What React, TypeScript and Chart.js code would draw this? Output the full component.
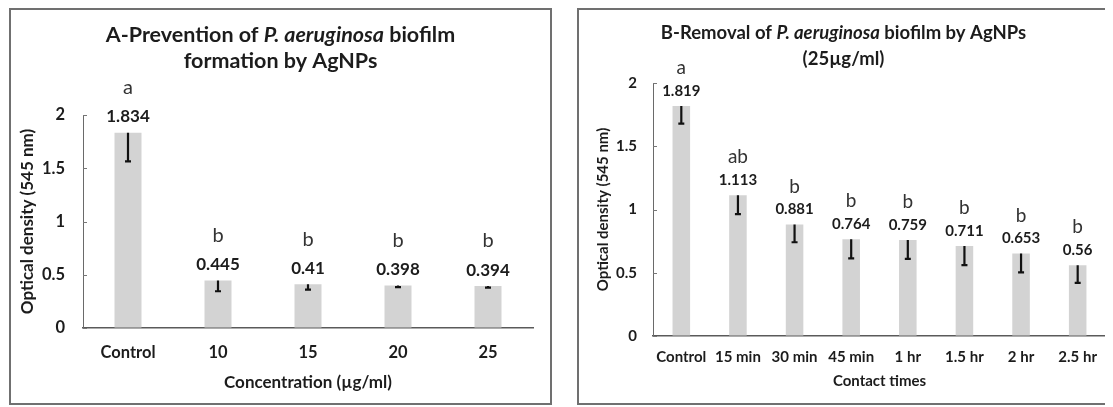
import { useEffect, useRef } from "react";
import { Chart, registerables } from "chart.js";

Chart.register(...registerables);

// ---------- data ----------
const concentrationCategories = ["Control", "10", "15", "20", "25"];
const preventionValues = [1.834, 0.445, 0.41, 0.398, 0.394];
const preventionErrors = [0.27, 0.1, 0.05, 0.015, 0.015];
const preventionLetters = ["a", "b", "b", "b", "b"];

const contactTimeCategories = ["Control", "15 min", "30 min", "45 min", "1 hr", "1.5 hr", "2 hr", "2.5 hr"];
const removalValues = [1.819, 1.113, 0.881, 0.764, 0.759, 0.711, 0.653, 0.56];
const removalErrors = [0.14, 0.15, 0.14, 0.15, 0.15, 0.15, 0.15, 0.14];
const removalLetters = ["a", "ab", "b", "b", "b", "b", "b", "b"];

const yTickValues = [0, 0.5, 1, 1.5, 2];

const FONT = "Lato, 'Open Sans', 'DejaVu Sans', sans-serif";
const TEXT = "#1c1c1c";

type Seg = { t: string; i?: boolean };

type PanelCfg = {
  left: number;
  width: number;
  height: number;
  categories: string[];
  values: number[];
  errors: number[];
  letters: string[];
  titleLines: Seg[][];
  titleYs: number[];
  titleSize: number;
  xTitle: string;
  xTitleY: number;
  xTitleSize: number;
  yTitle: string;
  yTitleX: number;
  yTitleSize: number;
  yAxisWidth: number;
  padTop: number;
  padRight: number;
  bottomSpace: number;
  tickSize: number;
  xTickPadding: number;
  yTickPadding: number;
  barPct: number;
  valueSize: number;
  valueOffset: number;
  letterSize: number;
  letterOffset: number;
};

const panelA: PanelCfg = {
  left: 1,
  width: 543,
  height: 397,
  categories: concentrationCategories,
  values: preventionValues,
  errors: preventionErrors,
  letters: preventionLetters,
  titleLines: [
    [{ t: "A-Prevention of " }, { t: "P. aeruginosa", i: true }, { t: " biofilm" }],
    [{ t: "formation by AgNPs" }],
  ],
  titleYs: [27, 53],
  titleSize: 21.5,
  xTitle: "Concentration (µg/ml)",
  xTitleY: 375,
  xTitleSize: 17,
  yTitle: "Optical density (545 nm)",
  yTitleX: 19,
  yTitleSize: 17,
  yAxisWidth: 74,
  padTop: 107,
  padRight: 19,
  bottomSpace: 77,
  tickSize: 16.5,
  xTickPadding: 15,
  yTickPadding: 18,
  barPct: 0.3,
  valueSize: 17,
  valueOffset: 16,
  letterSize: 20,
  letterOffset: 29,
};

const panelB: PanelCfg = {
  left: 569,
  width: 533,
  height: 397,
  categories: contactTimeCategories,
  values: removalValues,
  errors: removalErrors,
  letters: removalLetters,
  titleLines: [
    [{ t: "B-Removal of " }, { t: "P. aeruginosa", i: true }, { t: " biofilm by AgNPs" }],
    [{ t: "(25µg/ml)" }],
  ],
  titleYs: [25, 51],
  titleSize: 18.5,
  xTitle: "Contact times",
  xTitleY: 373,
  xTitleSize: 15,
  yTitle: "Optical density (545 nm)",
  yTitleX: 26,
  yTitleSize: 15,
  yAxisWidth: 76,
  padTop: 75,
  padRight: 4,
  bottomSpace: 69,
  tickSize: 15,
  xTickPadding: 12,
  yTickPadding: 16,
  barPct: 0.31,
  valueSize: 15,
  valueOffset: 15,
  letterSize: 19,
  letterOffset: 23,
};

function makeDecorPlugin(cfg: PanelCfg) {
  return {
    id: "decor",
    afterDatasetsDraw(chart: any) {
      const ctx: CanvasRenderingContext2D = chart.ctx;
      const ys = chart.scales.y;
      const area = chart.chartArea;
      const meta = chart.getDatasetMeta(0);
      ctx.save();

      // inward y tick marks
      ctx.strokeStyle = "#777";
      ctx.lineWidth = 1;
      yTickValues.forEach((v) => {
        const py = Math.round(ys.getPixelForValue(v)) + 0.5;
        ctx.beginPath();
        ctx.moveTo(area.left, py);
        ctx.lineTo(area.left + 4, py);
        ctx.stroke();
      });

      // error bars (minus direction) and labels
      cfg.values.forEach((v, i) => {
        const bar = meta.data[i];
        const x = bar.x;
        const yTop = ys.getPixelForValue(v);
        const yBot = ys.getPixelForValue(v - cfg.errors[i]);
        ctx.strokeStyle = "#111";
        ctx.lineWidth = 2.2;
        ctx.beginPath();
        ctx.moveTo(x, yTop);
        ctx.lineTo(x, yBot);
        ctx.moveTo(x - 3, yBot);
        ctx.lineTo(x + 3, yBot);
        ctx.stroke();

        ctx.fillStyle = TEXT;
        ctx.textAlign = "center";
        ctx.textBaseline = "middle";
        const vy = yTop - cfg.valueOffset;
        ctx.font = `bold ${cfg.valueSize}px ${FONT}`;
        ctx.fillText(String(v), x, vy);
        ctx.fillStyle = "#333";
        ctx.font = `normal ${cfg.letterSize}px ${FONT}`;
        ctx.fillText(cfg.letters[i], x, vy - cfg.letterOffset);
      });

      // title (rich text)
      ctx.fillStyle = TEXT;
      ctx.textBaseline = "middle";
      ctx.textAlign = "left";
      const cx = chart.width / 2;
      cfg.titleLines.forEach((line, li) => {
        const fontFor = (s: Seg) => `${s.i ? "italic " : ""}bold ${cfg.titleSize}px ${FONT}`;
        let total = 0;
        const widths = line.map((s) => {
          ctx.font = fontFor(s);
          const w = ctx.measureText(s.t).width;
          total += w;
          return w;
        });
        let x = cx - total / 2;
        line.forEach((s, si) => {
          ctx.font = fontFor(s);
          ctx.fillText(s.t, x, cfg.titleYs[li]);
          x += widths[si];
        });
      });

      // axis titles
      ctx.textAlign = "center";
      ctx.font = `bold ${cfg.xTitleSize}px ${FONT}`;
      ctx.fillText(cfg.xTitle, (area.left + area.right) / 2, cfg.xTitleY);
      ctx.save();
      ctx.translate(cfg.yTitleX, (area.top + area.bottom) / 2);
      ctx.rotate(-Math.PI / 2);
      ctx.font = `bold ${cfg.yTitleSize}px ${FONT}`;
      ctx.fillText(cfg.yTitle, 0, 0);
      ctx.restore();

      ctx.restore();
    },
  };
}

function Panel({ cfg }: { cfg: PanelCfg }) {
  const ref = useRef<HTMLCanvasElement>(null);
  useEffect(() => {
    const chart = new Chart(ref.current as HTMLCanvasElement, {
      type: "bar",
      data: {
        labels: cfg.categories,
        datasets: [
          {
            data: cfg.values,
            backgroundColor: "#d3d3d3",
            borderWidth: 0,
            barPercentage: cfg.barPct,
            categoryPercentage: 1,
          },
        ],
      },
      options: {
        animation: false,
        responsive: false,
        devicePixelRatio: 1,
        layout: { padding: { top: cfg.padTop, right: cfg.padRight, left: 0, bottom: 0 } },
        plugins: { legend: { display: false }, tooltip: { enabled: false }, title: { display: false } },
        scales: {
          x: {
            grid: { display: true, drawOnChartArea: false, drawTicks: false },
            border: { display: true, color: "#5a5a5a", width: 1.5 },
            ticks: {
              color: TEXT,
              font: { family: FONT, size: cfg.tickSize, weight: "bold" },
              padding: cfg.xTickPadding,
              maxRotation: 0,
              autoSkip: false,
            },
            afterFit: (s: any) => {
              s.height = cfg.bottomSpace;
            },
          },
          y: {
            min: 0,
            max: 2,
            grid: { display: true, drawOnChartArea: false, drawTicks: false },
            border: { display: true, color: "#6a6a6a", width: 1 },
            ticks: {
              stepSize: 0.5,
              color: TEXT,
              font: { family: FONT, size: cfg.tickSize, weight: "bold" },
              padding: cfg.yTickPadding,
              callback: (v: any) => String(v),
            },
            afterFit: (s: any) => {
              s.width = cfg.yAxisWidth;
            },
          },
        },
      },
      plugins: [makeDecorPlugin(cfg)],
    } as any);
    return () => chart.destroy();
  }, [cfg]);
  return (
    <div style={{ position: "absolute", left: cfg.left, top: 0, width: cfg.width, height: cfg.height }}>
      <canvas
        ref={ref}
        width={cfg.width}
        height={cfg.height}
        style={{ display: "block", width: cfg.width, height: cfg.height }}
      />
      <div
        style={{
          position: "absolute",
          inset: 0,
          border: "2px solid #707070",
          boxSizing: "border-box",
          pointerEvents: "none",
        }}
      />
    </div>
  );
}

export default function App() {
  return (
    <div style={{ position: "relative", width: 1097, height: 399 }}>
      <Panel cfg={panelA} />
      <Panel cfg={panelB} />
    </div>
  );
}
